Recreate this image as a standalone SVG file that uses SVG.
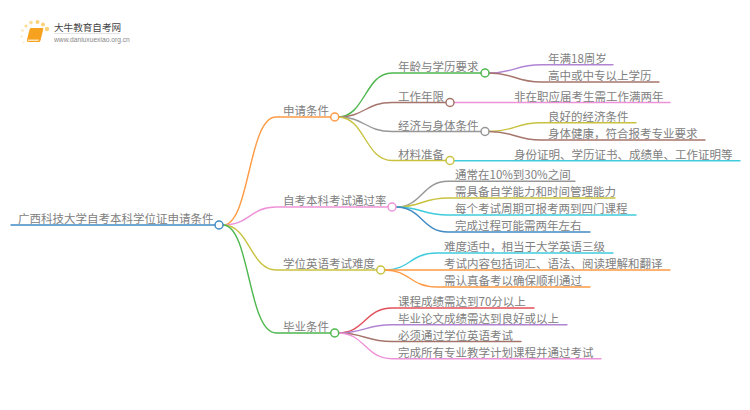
<svg xmlns="http://www.w3.org/2000/svg" width="750" height="410" viewBox="0 0 750 410">
<style>
text{font-family:"Noto Sans CJK SC","Liberation Sans",sans-serif;font-size:11.5px;fill:#808080}
.c path{fill:none;stroke-width:1.4;stroke-linecap:round}
circle.n{fill:#fff;stroke-width:1.5}
.bl{stroke:#3f8ac4}.or{stroke:#ff9b45}.pk{stroke:#ee92d8}.ol{stroke:#c8c23f}.gr{stroke:#4eb74e}
.br{stroke:#a5756b}.gy{stroke:#979797}.pu{stroke:#b083d3}.cy{stroke:#3fcbdc}.rd{stroke:#e2505a}
</style>
<g id="logo">
<circle cx="47" cy="29" r="2.2" fill="#fbd27a"/><circle cx="43" cy="24.500" r="2" fill="#fbd27a"/><circle cx="37.500" cy="22" r="2" fill="#fbd27a"/><circle cx="31" cy="22.500" r="1.800" fill="#fcdc95"/><circle cx="26" cy="26" r="1.600" fill="#fcdc95"/><circle cx="22.500" cy="30.500" r="1.300" fill="#fde6b5"/><circle cx="21.500" cy="36.500" r="1.100" fill="#fde6b5"/><circle cx="23.500" cy="42.500" r="1" fill="#feeecb"/>
<path d="M31 28h11.500q1 0 .8 1l-2.800 11.500q-.3 1.500-2 1.500h-10q-2 0-1.600-2l2.600-10.500q.3-1.500 1.500-1.500z" fill="#f7a21f"/>
<path d="M28 39.500h11l-.6 1.500h-10.600z" fill="#fde3b8"/>
<rect x="54" y="33" width="66" height=".8" fill="#ddd"/>
<text x="54" y="31" style="font-size:9.600px;fill:#444">大牛教育自考网</text>
<text x="54" y="41.500" style="font-size:6.700px;fill:#888;font-family:'Liberation Sans',sans-serif">www.daniuxuexiao.org.cn</text>
</g>
<g id="connectors" class="c">
<path class="bl" d="M11 225H215"/>
<path class="or" d="M223 225C250 225 248 117 276 117H331"/>
<path class="pk" d="M223 225C250 225 250 207 276 207H388"/>
<path class="ol" d="M223 225C250 225 250 270 276 270H377"/>
<path class="gr" d="M223 225C250 225 248 333 276 333H331"/>
<path class="gr" d="M338 117C365 117 365 73 392 73H481"/>
<path class="br" d="M338 117C365 117 365 102.500 392 102.500H446"/>
<path class="gy" d="M338 117C365 117 365 131.500 392 131.500H481"/>
<path class="ol" d="M338 117C365 117 365 160.500 392 160.500H446"/>
<path class="pu" d="M489 73C515 73 515 64.700 541 64.700H613"/>
<path class="br" d="M489 73C515 73 515 82 541 82H659"/>
<path class="pk" d="M454 102.500H670"/>
<path class="ol" d="M489 131.500C515 131.500 515 122.700 541 122.700H636"/>
<path class="br" d="M489 131.500C515 131.500 515 140 541 140H705"/>
<path class="cy" d="M454 160.700H740"/>
<path class="gy" d="M396 207C422 207 422 181.300 448 181.300H575"/>
<path class="ol" d="M396 207C422 207 422 198 448 198H615"/>
<path class="cy" d="M396 207C422 207 422 215 448 215H636"/>
<path class="bl" d="M396 207C422 207 422 232 448 232H590"/>
<path class="cy" d="M385 270C410 270 410 253 437 253H613"/>
<path class="or" d="M385 270H670"/>
<path class="or" d="M385 270C410 270 410 287 437 287H590"/>
<path class="rd" d="M338 333C365 333 365 308 392 308H534"/>
<path class="pu" d="M338 333C365 333 365 324.700 392 324.700H567"/>
<path class="br" d="M338 333C365 333 365 341.500 392 341.500H521"/>
<path class="pk" d="M338 333C365 333 365 358.700 392 358.700H601"/>
</g>
<g id="root"><circle class="n bl" cx="219" cy="225" r="4"/><text x="18" y="223">广西科技大学自考本科学位证申请条件</text></g>
<g id="n1"><circle class="n or" cx="334.700" cy="117" r="4"/><text x="283" y="115">申请条件</text></g>
<g id="n2"><circle class="n pk" cx="392" cy="207" r="4"/><text x="283" y="205">自考本科考试通过率</text></g>
<g id="n3"><circle class="n ol" cx="380.700" cy="270" r="4"/><text x="283" y="268">学位英语考试难度</text></g>
<g id="n4"><circle class="n gr" cx="334.700" cy="333" r="4"/><text x="283" y="331">毕业条件</text></g>
<g id="n11"><circle class="n gr" cx="485" cy="73" r="4"/><text x="398" y="71">年龄与学历要求</text></g>
<g id="n12"><circle class="n br" cx="450" cy="102.500" r="4"/><text x="398" y="100.500">工作年限</text></g>
<g id="n13"><circle class="n gy" cx="485" cy="131.500" r="4"/><text x="398" y="129.500">经济与身体条件</text></g>
<g id="n14"><circle class="n ol" cx="450" cy="160.500" r="4"/><text x="398" y="158.500">材料准备</text></g>
<g id="n111"><text x="548" y="63">年满18周岁</text></g>
<g id="n112"><text x="548" y="80">高中或中专以上学历</text></g>
<g id="n121"><text x="514" y="100.500">非在职应届考生需工作满两年</text></g>
<g id="n131"><text x="548" y="121">良好的经济条件</text></g>
<g id="n132"><text x="548" y="138">身体健康，符合报考专业要求</text></g>
<g id="n141"><text x="514" y="158.700">身份证明、学历证书、成绩单、工作证明等</text></g>
<g id="n21"><text x="455" y="179">通常在10%到30%之间</text></g>
<g id="n22"><text x="455" y="196">需具备自学能力和时间管理能力</text></g>
<g id="n23"><text x="455" y="213">每个考试周期可报考两到四门课程</text></g>
<g id="n24"><text x="455" y="230">完成过程可能需两年左右</text></g>
<g id="n31"><text x="444" y="251">难度适中，相当于大学英语三级</text></g>
<g id="n32"><text x="444" y="268">考试内容包括词汇、语法、阅读理解和翻译</text></g>
<g id="n33"><text x="444" y="285">需认真备考以确保顺利通过</text></g>
<g id="n41"><text x="398" y="306">课程成绩需达到70分以上</text></g>
<g id="n42"><text x="398" y="322.700">毕业论文成绩需达到良好或以上</text></g>
<g id="n43"><text x="398" y="339.500">必须通过学位英语考试</text></g>
<g id="n44"><text x="398" y="356.700">完成所有专业教学计划课程并通过考试</text></g>
</svg>
